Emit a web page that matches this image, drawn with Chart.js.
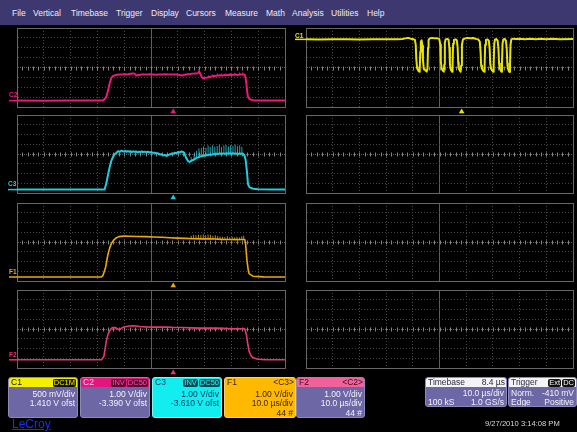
<!DOCTYPE html>
<html>
<head>
<meta charset="utf-8">
<script src="https://cdn.jsdelivr.net/npm/chart.js@4/dist/chart.umd.min.js"></script>
<style>
  html, body { margin: 0; padding: 0; background: #000; width: 577px; height: 432px; overflow: hidden;
               font-family: "Liberation Sans", Arial, sans-serif; }
  #menu { position: absolute; left: 0; top: 0; width: 577px; height: 25px; background: #3e3870; }
  #menu span { position: absolute; top: 8px; font-size: 8.5px; line-height: 10px; color: #ecebf5; white-space: nowrap; }
  canvas.scope { position: absolute; }
  .box { position: absolute; top: 377px; height: 41px; border-radius: 3px; background: #6e67a5;
         box-sizing: border-box; border: 1px solid #8f89bb; overflow: hidden;
         font-size: 8.5px; color: #f2f2f8; }
  .box.short { height: 30px; }
  .hd { position: relative; height: 9px; line-height: 9px; padding: 0 2px; white-space: nowrap; }
  .hd .r { position: absolute; right: 1px; top: 0; }
  .badge { display: inline-block; height: 8px; line-height: 8px; padding: 0 1px; border-radius: 2px;
           font-size: 7.5px; margin-left: 1px; vertical-align: top; margin-top: 0.5px; }
  .rows { margin-top: 2.5px; }
  .box.short .rows { margin-top: 1.5px; }
  .row { position: relative; height: 9.5px; line-height: 9.5px; padding: 0 2px; text-align: right; white-space: nowrap; }
  .box.short .row { height: 9px; line-height: 9px; }
  .row .l { position: absolute; left: 2px; top: 0; }
  #stamp { position: absolute; left: 485px; top: 419px; font-size: 7.6px; line-height: 10px; color: #d9d9d9; white-space: nowrap; }
  #brand { position: absolute; left: 12px; top: 418px; font-size: 12px; line-height: 13px; color: #1a32e6; text-decoration: underline; }
</style>
</head>
<body>

<div id="menu">
  <span style="left:12px">File</span>
  <span style="left:33px">Vertical</span>
  <span style="left:71px">Timebase</span>
  <span style="left:116px">Trigger</span>
  <span style="left:151px">Display</span>
  <span style="left:186px">Cursors</span>
  <span style="left:225px">Measure</span>
  <span style="left:266px">Math</span>
  <span style="left:292px">Analysis</span>
  <span style="left:331px">Utilities</span>
  <span style="left:367px">Help</span>
</div>

<canvas class="scope" id="gC2" width="290" height="93" style="left:0;top:24px"></canvas>
<canvas class="scope" id="gC3" width="290" height="92" style="left:0;top:111px"></canvas>
<canvas class="scope" id="gF1" width="290" height="92" style="left:0;top:199px"></canvas>
<canvas class="scope" id="gF2" width="290" height="92" style="left:0;top:286px"></canvas>
<canvas class="scope" id="gC1" width="285" height="93" style="left:292px;top:24px"></canvas>
<canvas class="scope" id="gR2" width="285" height="92" style="left:292px;top:111px"></canvas>
<canvas class="scope" id="gR3" width="285" height="92" style="left:292px;top:199px"></canvas>
<canvas class="scope" id="gR4" width="285" height="92" style="left:292px;top:286px"></canvas>

<!-- channel descriptor boxes -->
<div class="box" style="left:8px;width:70px">
  <div class="hd" style="background:#f2f000;color:#111">C1<span class="r"><span class="badge" style="background:#111;color:#f2f000">DC1M</span></span></div>
  <div class="rows"><div class="row">500 mV/div</div><div class="row">1.410 V ofst</div></div>
</div>
<div class="box" style="left:80px;width:70px">
  <div class="hd" style="background:#e3167d;color:#ffd0e6">C2<span class="r"><span class="badge" style="background:#5c0934;color:#ff4fa6">INV</span><span class="badge" style="background:#5c0934;color:#ff4fa6">DC50</span></span></div>
  <div class="rows"><div class="row">1.00 V/div</div><div class="row">-3.390 V ofst</div></div>
</div>
<div class="box" style="left:152px;width:70px;background:#12eef0;border-color:#7ff6f6;color:#1b2d55">
  <div class="hd" style="color:#1b2d55">C3<span class="r"><span class="badge" style="background:#064a52;color:#3cf4f4">INV</span><span class="badge" style="background:#064a52;color:#3cf4f4">DC50</span></span></div>
  <div class="rows"><div class="row">1.00 V/div</div><div class="row">-3.610 V ofst</div></div>
</div>
<div class="box" style="left:224px;width:72px;background:#ffb900;border-color:#ffd060;color:#3a2600">
  <div class="hd">F1<span class="r">&lt;C3&gt;</span></div>
  <div class="rows"><div class="row">1.00 V/div</div><div class="row">10.0 µs/div</div><div class="row">44 #</div></div>
</div>
<div class="box" style="left:296px;width:69px">
  <div class="hd" style="background:#f2629a;color:#3a0a1e">F2<span class="r">&lt;C2&gt;</span></div>
  <div class="rows"><div class="row">1.00 V/div</div><div class="row">10.0 µs/div</div><div class="row">44 #</div></div>
</div>
<div class="box short" style="left:425px;width:82px">
  <div class="hd" style="background:#f4f4f6;color:#2a2a40">Timebase<span class="r">8.4 µs</span></div>
  <div class="rows"><div class="row">10.0 µs/div</div><div class="row"><span class="l">100 kS</span>1.0 GS/s</div></div>
</div>
<div class="box short" style="left:508px;width:69px">
  <div class="hd" style="background:#f4f4f6;color:#2a2a40">Trigger<span class="r"><span class="badge" style="background:#111;color:#f4f4f4">Ext</span><span class="badge" style="background:#111;color:#f4f4f4">DC</span></span></div>
  <div class="rows"><div class="row"><span class="l">Norm.</span>-410 mV</div><div class="row"><span class="l">Edge</span>Positive</div></div>
</div>

<div id="stamp">9/27/2010 3:14:08 PM</div>
<div id="brand">LeCroy</div>

<script>
// Screen time in µs (10 µs/div, 10 divisions); levels in vertical divisions (±4).
const triggerTime = 58.3;

// C2 — magenta channel
const c2Trace = [
  [0,-3.35],[10,-3.36],[20,-3.35],[30,-3.35],[32.1,-3.34],[32.7,-3.2],[33.3,-2.98],[33.9,-2.4],
  [34.6,-1.6],[35.2,-1.05],[35.8,-0.86],[36.5,-0.80],[37.3,-0.74],[38.3,-0.70],[39.2,-0.72],
  [40.2,-0.69],[41.2,-0.70],[42.3,-0.64],[43.3,-0.60],[43.9,-0.62],[44.5,-0.82],[45.4,-0.76],
  [46.5,-0.72],[47.6,-0.70],[48.7,-0.72],[49.8,-0.69],[50.9,-0.70],[52.0,-0.73],[53.1,-0.70],
  [54.2,-0.71],[55.3,-0.69],[56.4,-0.72],[57.5,-0.70],[58.6,-0.72],[59.6,-0.70],[60.6,-0.76],
  [61.6,-0.80],[62.6,-0.74],[63.6,-0.68],[64.6,-0.66],[65.6,-0.62],[66.6,-0.60],[67.5,-0.58],
  [68.0,-0.42],[68.4,-0.66],[68.9,-0.95],[69.4,-1.08],[70.3,-1.05],[71.1,-1.02],[71.9,-0.96],
  [72.7,-0.90],[73.5,-0.86],[74.3,-0.84],[75.1,-0.80],[75.9,-0.78],[76.7,-0.82],[77.5,-0.76],
  [78.3,-0.78],[79.1,-0.74],[79.9,-0.77],[80.7,-0.74],[81.5,-0.72],[82.3,-0.75],[83.1,-0.71],
  [83.9,-0.72],[84.6,-0.70],[85.1,-0.78],[85.5,-1.40],[85.9,-2.50],[86.2,-2.98],[86.8,-3.20],
  [87.6,-3.28],[88.5,-3.33],[90,-3.35],[95,-3.35],[100,-3.35]
];
const c2Spikes = [
  [67.9,-0.6,-0.2],[71.5,-1.0,-0.82],[73.0,-0.9,-0.7],[74.8,-0.84,-0.62],[76.4,-0.8,-0.6],
  [78.0,-0.78,-0.6],[79.6,-0.76,-0.56],[81.2,-0.73,-0.56],[83.0,-0.72,-0.52],[84.3,-0.71,-0.5]
];

// C3 — cyan channel
const c3Trace = [
  [0,-3.65],[10,-3.64],[20,-3.65],[30,-3.65],[32.7,-3.64],[33.3,-3.03],[34.0,-2.1],[34.6,-1.32],
  [35.2,-0.7],[35.8,-0.29],[36.5,0.0],[37.1,0.13],[37.7,0.30],[38.3,0.22],[39.0,0.34],[39.8,0.25],
  [40.4,0.33],[40.8,0.22],[41.4,0.30],[41.8,0.24],[42.4,0.28],[42.8,0.18],[43.4,0.27],[43.8,0.22],
  [44.4,0.26],[45.0,0.16],[45.6,0.25],[46.0,0.20],[46.6,0.27],[47.0,0.20],[47.6,0.24],[48.3,0.18],
  [48.9,0.24],[49.5,0.14],[50.1,0.20],[50.7,0.12],[51.3,0.14],[52.0,0.05],[52.6,0.08],[53.2,-0.04],
  [53.8,-0.02],[54.5,-0.14],[55.1,-0.10],[55.7,-0.20],[56.3,-0.10],[57.0,-0.06],[57.6,0.04],
  [58.2,0.02],[58.8,0.12],[59.5,0.10],[60.1,0.20],[60.8,0.16],[61.4,0.26],[61.9,0.22],[62.4,0.12],
  [62.8,-0.20],[63.2,-0.45],[63.8,-0.72],[64.4,-0.82],[65.0,-0.70],[65.7,-0.62],[66.3,-0.52],
  [67.0,-0.40],[67.6,-0.34],[68.2,-0.26],[68.9,-0.24],[69.5,-0.16],[70.1,-0.18],[70.7,-0.10],
  [71.4,-0.12],[72.0,-0.04],[72.6,-0.08],[73.2,0.00],[73.8,-0.04],[74.4,0.04],[75.0,0.00],
  [75.7,0.06],[76.3,0.02],[77.0,0.06],[77.6,0.01],[78.2,0.08],[78.8,0.03],[79.4,0.07],[80.0,0.02],
  [80.6,0.08],[81.2,0.03],[81.8,0.06],[82.4,0.01],[83.0,0.05],[83.7,0.02],[84.3,0.03],[84.9,-0.15],
  [85.3,-0.6],[85.8,-1.8],[86.2,-3.1],[86.8,-3.42],[88.1,-3.56],[90,-3.62],[95,-3.65],[100,-3.65]
];
const c3Spikes = [
  [65.0,-0.72,-0.35],[66.1,-0.6,-0.05],[67.0,-0.48,0.3],[67.9,-0.36,0.55],[68.8,-0.3,0.6],
  [69.6,-0.22,0.75],[70.5,-0.18,0.62],[71.3,-0.14,0.85],[72.1,-0.1,0.7],[73.0,-0.06,0.9],
  [73.8,-0.06,0.72],[74.7,-0.02,0.8],[75.5,-0.02,0.95],[76.3,-0.02,0.7],[77.2,0.0,0.85],
  [78.0,0.0,0.92],[78.9,0.0,0.75],[79.7,0.0,0.88],[80.6,0.02,0.8],[81.4,0.0,0.95],
  [82.3,-0.02,0.78],[83.1,0.0,0.85],[83.9,-0.02,0.7]
];

// F1 — average of C3 (gold)
const f1Trace = [
  [0,-3.59],[10,-3.59],[20,-3.59],[31.5,-3.59],[32.1,-3.42],[32.6,-3.0],[33.1,-2.56],[33.5,-1.9],
  [34.0,-1.20],[34.6,-0.6],[35.2,-0.17],[36.1,0.2],[37.1,0.44],[38.0,0.55],[39.0,0.58],[40,0.60],
  [42,0.59],[45,0.57],[48,0.55],[51,0.52],[54,0.48],[57,0.44],[60,0.40],[63,0.37],[66,0.34],
  [69,0.32],[72,0.33],[74,0.30],[76,0.27],[78,0.25],[80,0.26],[82,0.24],[84,0.25],[85.0,0.25],
  [85.3,-0.2],[85.8,-1.88],[86.3,-2.9],[86.6,-3.25],[88.1,-3.52],[92,-3.58],[100,-3.59]
];
const f1Spikes = [
  [65.0,0.34,0.62],[65.9,0.34,0.70],[66.8,0.33,0.66],[67.7,0.33,0.74],[68.6,0.32,0.68],
  [69.5,0.32,0.76],[70.4,0.32,0.66],[71.3,0.33,0.74],[72.2,0.33,0.70],[73.1,0.32,0.60],
  [74.0,0.30,0.66],[74.9,0.29,0.58],[75.8,0.27,0.52],[76.7,0.26,0.50],[77.6,0.25,0.48],
  [78.5,0.25,0.58],[79.4,0.26,0.46],[80.3,0.26,0.52],[81.2,0.25,0.44],[82.1,0.24,0.50],
  [83.0,0.24,0.44],[83.9,0.25,0.56],[84.6,0.25,0.60]
];

// F2 — average of C2 (pink)
const f2Trace = [
  [0,-3.16],[10,-3.16],[20,-3.16],[31.5,-3.16],[32.4,-2.82],[32.9,-2.0],[33.3,-1.28],[33.9,-0.6],
  [34.6,-0.18],[35.2,0.05],[35.8,0.16],[36.4,0.14],[37.1,0.09],[37.6,0.0],[38.1,-0.08],[38.6,0.0],
  [39.0,0.09],[40.0,0.20],[40.8,0.26],[42.0,0.31],[43.3,0.33],[44.5,0.30],[45.8,0.26],[48,0.22],
  [50.7,0.19],[53,0.20],[55.7,0.19],[58,0.17],[61.9,0.16],[65,0.12],[68.2,0.09],[71,0.10],
  [74.4,0.09],[77,0.06],[80.6,0.02],[83,0.03],[85.0,0.02],[85.6,-0.59],[86.1,-1.5],[86.6,-2.30],
  [87.5,-2.82],[88.4,-2.98],[89.3,-3.06],[91,-3.12],[93.0,-3.16],[100,-3.16]
];

// C1 — yellow pulse train (500 mV/div)
const c1Trace = [
  [0,2.85],[5,2.84],[10,2.86],[15,2.85],[20,2.84],[25,2.86],[30,2.85],[34,2.85],[36,2.88],[37.2,2.95],
  [38.2,3.0],[39.2,2.92],[40.2,2.87],[40.8,2.8],
  [41.1,2.3],[41.3,0.9],[41.6,-0.05],[42.0,-0.3],[42.4,-0.42],[42.6,-0.2],[42.8,1.6],[43.0,2.6],[43.3,2.75],
  [43.6,2.2],[43.8,0.8],[44.1,-0.08],[44.6,-0.25],[45.2,-0.42],[45.5,-0.1],[45.7,2.0],[45.9,2.75],
  [46.3,2.95],[47.2,3.0],[48.2,2.95],[49.2,2.95],[49.9,2.9],
  [50.3,2.3],[50.5,0.6],[50.8,-0.08],[51.2,-0.3],[51.6,-0.42],[51.8,0.3],[52.0,2.5],[52.3,2.85],[53.0,2.9],[53.4,2.8],
  [53.7,2.0],[53.9,0.4],[54.1,-0.1],[54.4,-0.3],[54.7,-0.43],[54.9,0.3],[55.1,2.4],[55.4,2.8],[56.0,2.85],[56.5,2.75],
  [56.8,2.0],[57.0,0.5],[57.2,-0.1],[57.6,-0.3],[57.9,-0.43],[58.1,0.2],[58.4,2.3],[58.8,2.85],[59.6,2.95],
  [60.6,3.0],[61.6,2.95],[62.6,2.98],[63.6,2.9],[64.5,2.85],[65.1,2.6],
  [65.4,1.5],[65.6,0.2],[65.9,-0.12],[66.3,-0.3],[66.7,-0.42],[66.9,0.2],[67.1,2.3],[67.4,2.8],[68.0,2.85],[68.5,2.7],
  [68.8,1.8],[69.0,0.4],[69.3,-0.1],[69.7,-0.3],[70.1,-0.43],[70.3,0.3],[70.5,2.4],[70.8,2.85],[71.3,2.88],[71.8,2.7],
  [72.1,1.8],[72.3,0.4],[72.6,-0.1],[72.9,-0.3],[73.2,-0.43],[73.4,0.3],[73.6,2.4],[73.9,2.85],[74.4,2.9],[74.9,2.7],
  [75.2,1.8],[75.4,0.4],[75.6,-0.12],[75.9,-0.32],[76.2,-0.45],[76.4,0.2],[76.6,2.3],[76.9,2.85],[77.6,2.92],
  [78.6,2.88],[80,2.9],[82,2.86],[84,2.9],[86,2.86],[88,2.9],[90,2.86],[92,2.9],[95,2.86],[100,2.88]
];

// Graticule styling
const FRAME = '#676767';
const GRID_V = '#4a4a4a';
const GRID_H = '#414141';
const CENTER = '#5e5e5e';
const MINOR = '#858585';

function toPoints(trace) { return trace.map(([x, y]) => ({ x, y })); }
function spikePoints(spikes) {
  const pts = [];
  for (const [t, lo, hi] of spikes) { pts.push({ x: t, y: lo }, { x: t, y: hi }, { x: t, y: null }); }
  return pts;
}

// Center-line minor ticks, channel tags and trigger marker
const scopeDecor = {
  id: 'scopeDecor',
  beforeDatasetsDraw(chart, args, opts) {
    const { ctx, chartArea: a, scales: { x, y } } = chart;
    const yc = Math.round(y.getPixelForValue(0)) + 0.5;
    ctx.save();
    ctx.strokeStyle = MINOR;
    ctx.lineWidth = 1;
    ctx.beginPath();
    for (let t = 2; t < 100; t += 2) {
      const px = Math.round(x.getPixelForValue(t)) + 0.5;
      ctx.moveTo(px, yc - 2);
      ctx.lineTo(px, yc + 2);
    }
    ctx.stroke();
    ctx.restore();
  },
  afterDraw(chart, args, opts) {
    const { ctx, chartArea: a, scales: { x, y } } = chart;
    ctx.save();
    if (opts.tag) {
      const yb = y.getPixelForValue(opts.tagLevel);
      ctx.strokeStyle = opts.color;
      ctx.lineWidth = 1.5;
      ctx.beginPath();
      ctx.moveTo(a.left - opts.tagLen, yb);
      ctx.lineTo(a.left, yb);
      ctx.stroke();
      ctx.fillStyle = opts.color;
      ctx.font = 'bold 6.5px "Liberation Sans", Arial, sans-serif';
      ctx.textBaseline = 'alphabetic';
      ctx.fillText(opts.tag, a.left - opts.tagLen, yb - opts.tagGap);
    }
    if (opts.trigColor) {
      const px = x.getPixelForValue(triggerTime);
      const top = a.bottom + 1.5;
      ctx.fillStyle = opts.trigColor;
      ctx.beginPath();
      ctx.moveTo(px, top);
      ctx.lineTo(px + 2.8, top + 4.8);
      ctx.lineTo(px - 2.8, top + 4.8);
      ctx.closePath();
      ctx.fill();
    }
    ctx.restore();
  }
};

function edgeOr(min, max, center, edge, mid, other) {
  return (c) => {
    const v = c.tick ? c.tick.value : null;
    if (v === min || v === max) return edge;
    if (v === center) return mid;
    return other;
  };
}

function scopeChart(id, pad, datasets, decor) {
  return new Chart(document.getElementById(id), {
    type: 'line',
    data: { datasets },
    plugins: [scopeDecor],
    options: {
      responsive: false,
      animation: false,
      devicePixelRatio: 1,
      events: [],
      layout: { padding: pad },
      plugins: { legend: { display: false }, tooltip: { enabled: false }, scopeDecor: decor },
      elements: { point: { radius: 0 }, line: { tension: 0, borderJoinStyle: 'round', borderCapStyle: 'round' } },
      scales: {
        x: {
          type: 'linear', min: 0, max: 100,
          ticks: { display: false, stepSize: 10, autoSkip: false },
          grid: { drawTicks: false, lineWidth: 1, color: edgeOr(0, 100, 50, FRAME, CENTER, GRID_V) },
          border: { display: true, color: FRAME, width: 1, dash: edgeOr(0, 100, 50, [], [], [1, 2]) }
        },
        y: {
          type: 'linear', min: -4, max: 4,
          ticks: { display: false, stepSize: 1, autoSkip: false },
          grid: { drawTicks: false, lineWidth: 1, color: edgeOr(-4, 4, 0, FRAME, CENTER, GRID_H) },
          border: { display: true, color: FRAME, width: 1, dash: edgeOr(-4, 4, 0, [], [1, 1], [1, 2]) }
        }
      }
    }
  });
}

function traceSet(trace, color, width) {
  return { data: toPoints(trace), borderColor: color, borderWidth: width, spanGaps: false };
}
function spikeSet(spikes, color) {
  return { data: spikePoints(spikes), borderColor: color, borderWidth: 0.8, spanGaps: false };
}

const LEFT_PAD = { left: 17, right: 5, top: 4, bottom: 10 };
const RIGHT_PAD = { left: 14, right: 4, top: 4, bottom: 10 };

const MAGENTA = '#f0167f', CYAN = '#22ccdc', GOLD = '#e9a90e', PINK = '#e8366f', YELLOW = '#e6e400';

scopeChart('gC2', LEFT_PAD, [spikeSet(c2Spikes, MAGENTA), traceSet(c2Trace, MAGENTA, 2)],
  { tag: 'C2', tagLevel: c2Trace[0][1], tagLen: 8, tagGap: 3.2, color: MAGENTA, trigColor: MAGENTA });
scopeChart('gC3', LEFT_PAD, [spikeSet(c3Spikes, CYAN), traceSet(c3Trace, CYAN, 2)],
  { tag: 'C3', tagLevel: c3Trace[0][1], tagLen: 9, tagGap: 3.2, color: CYAN, trigColor: CYAN });
scopeChart('gF1', LEFT_PAD, [spikeSet(f1Spikes, GOLD), traceSet(f1Trace, GOLD, 1.6)],
  { tag: 'F1', tagLevel: f1Trace[0][1], tagLen: 8, tagGap: 3.2, color: GOLD, trigColor: GOLD });
scopeChart('gF2', LEFT_PAD, [traceSet(f2Trace, PINK, 1.6)],
  { tag: 'F2', tagLevel: f2Trace[0][1], tagLen: 8, tagGap: 3.2, color: PINK, trigColor: PINK });
scopeChart('gC1', RIGHT_PAD, [traceSet(c1Trace, YELLOW, 2)],
  { tag: 'C1', tagLevel: c1Trace[0][1], tagLen: 11, tagGap: 1.5, color: YELLOW, trigColor: YELLOW });
scopeChart('gR2', RIGHT_PAD, [], {});
scopeChart('gR3', RIGHT_PAD, [], {});
scopeChart('gR4', RIGHT_PAD, [], {});
</script>
</body>
</html>
